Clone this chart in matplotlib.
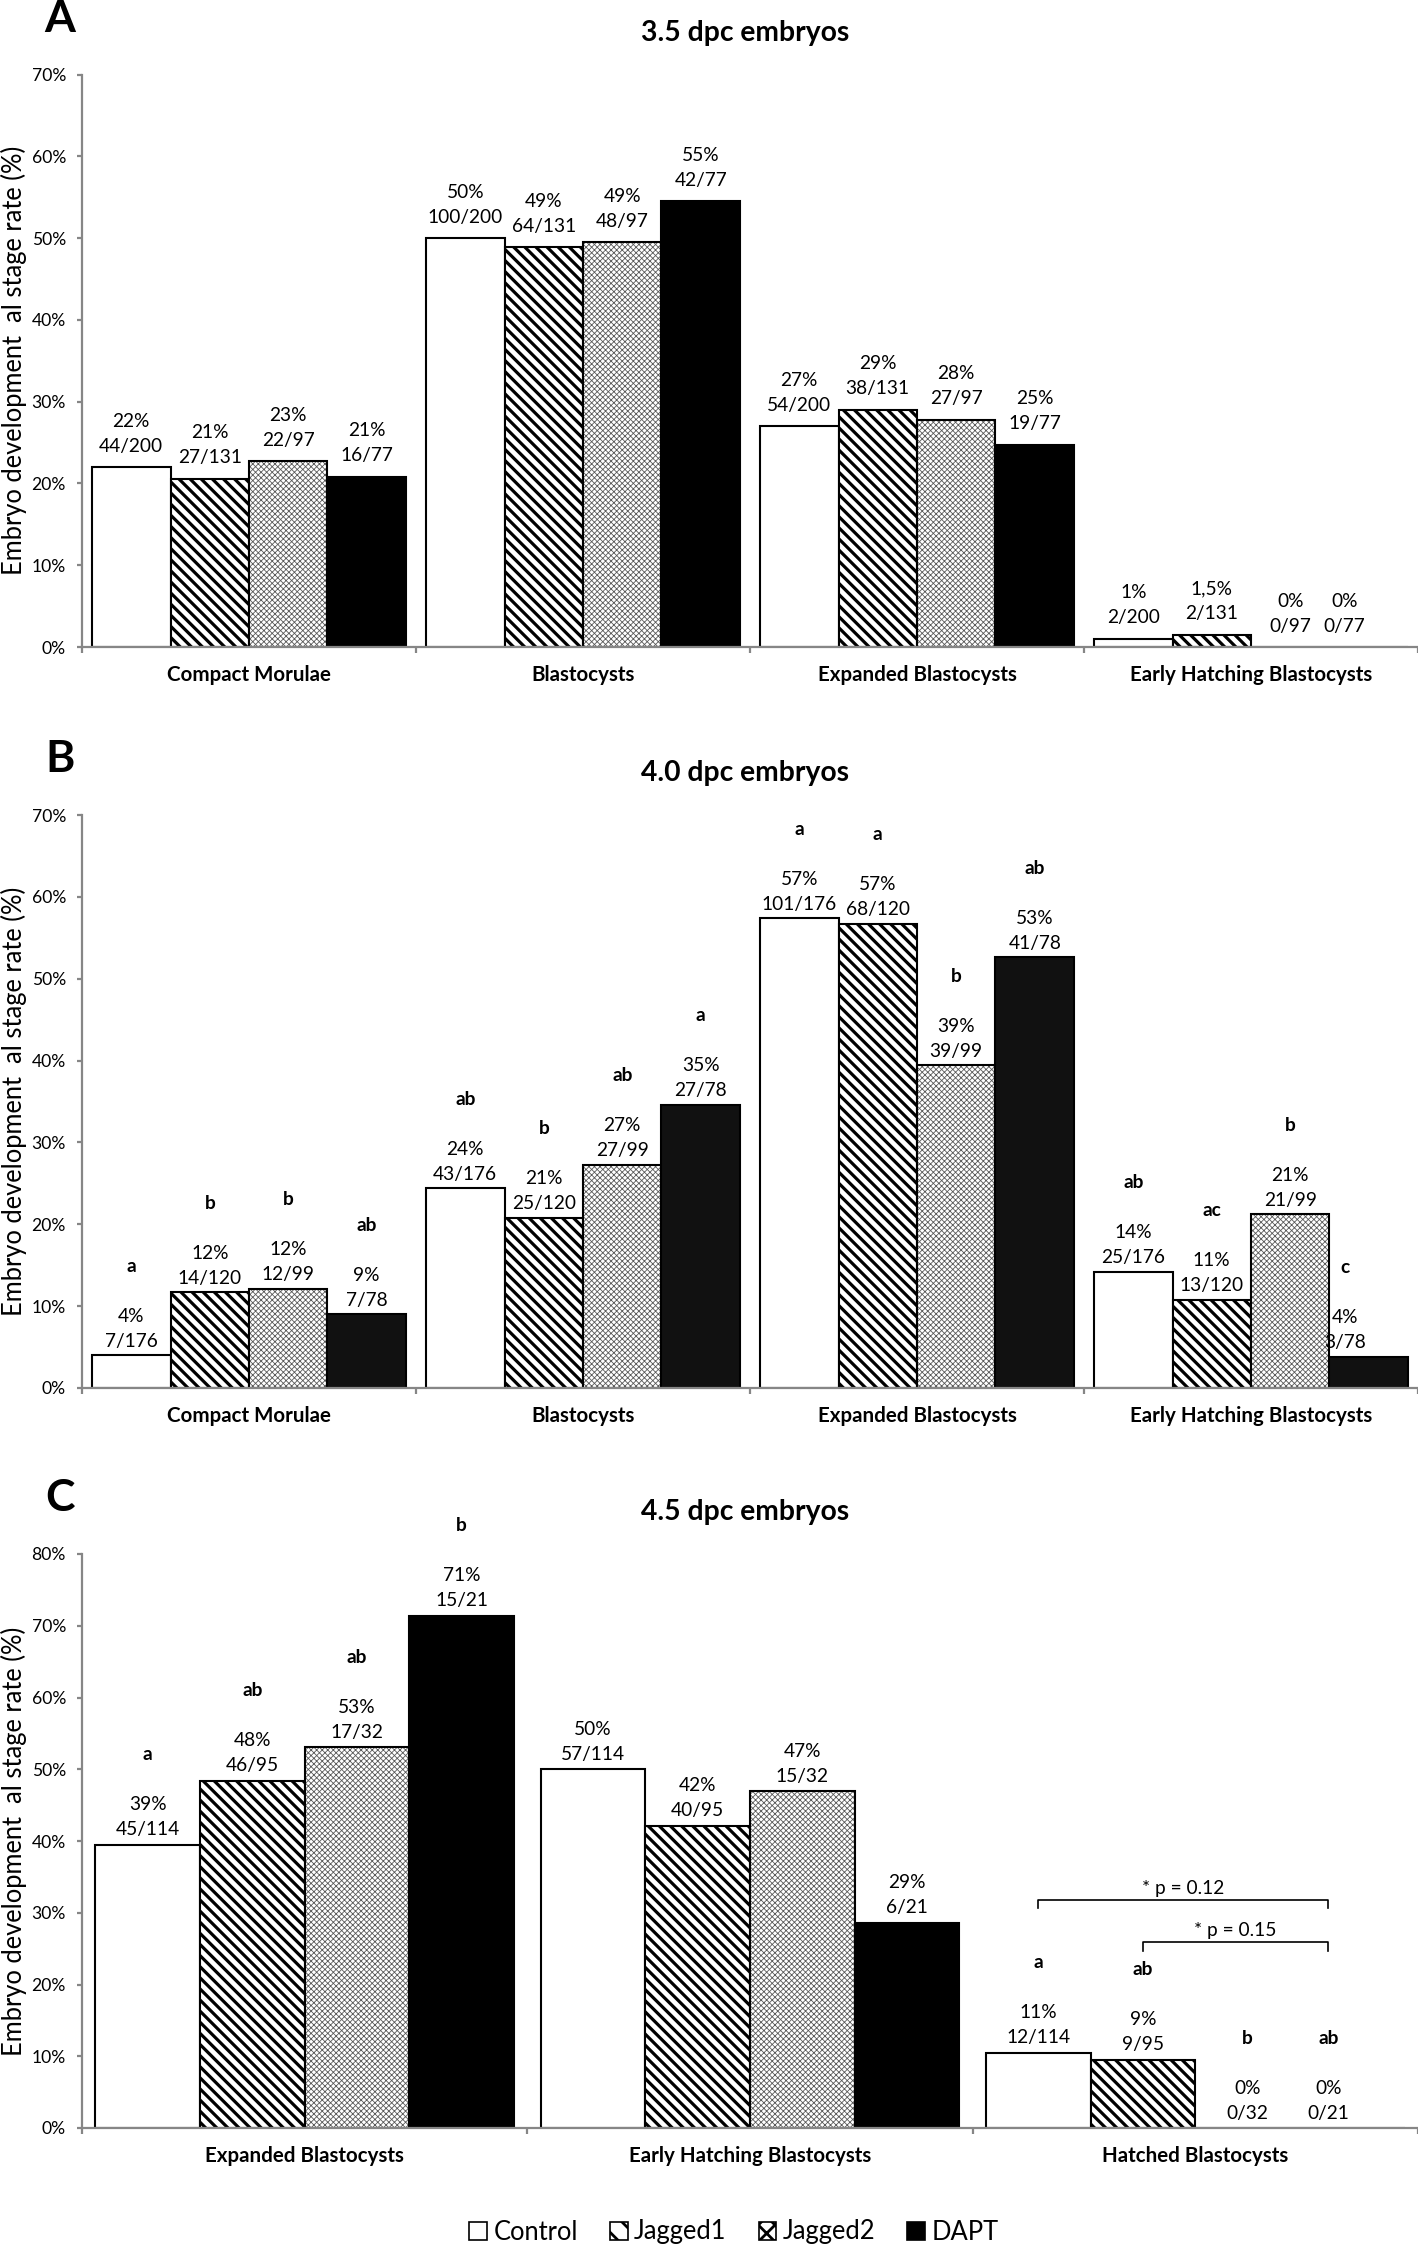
import numpy as np
import matplotlib.pyplot as plt
from matplotlib.patches import Patch

plt.rcParams['font.family'] = ['Lato', 'DejaVu Sans']

W, H, DPI = 1418, 2245, 200

groups = ['Control', 'Jagged1', 'Jagged2', 'DAPT']

# A - 3.5 dpc (one row per group)
cats_a = ['Compact Morulae', 'Blastocysts', 'Expanded Blastocysts', 'Early Hatching Blastocysts']
vals_a = [[22.0, 50.0, 27.0, 1.0],
          [20.6, 48.9, 29.0, 1.5],
          [22.7, 49.5, 27.8, 0.0],
          [20.8, 54.5, 24.7, 0.0]]
pct_a = [['22%', '50%', '27%', '1%'],
         ['21%', '49%', '29%', '1,5%'],
         ['23%', '49%', '28%', '0%'],
         ['21%', '55%', '25%', '0%']]
n_a = [['44/200', '100/200', '54/200', '2/200'],
       ['27/131', '64/131', '38/131', '2/131'],
       ['22/97', '48/97', '27/97', '0/97'],
       ['16/77', '42/77', '19/77', '0/77']]

# B - 4.0 dpc
cats_b = cats_a
vals_b = [[4.0, 24.4, 57.4, 14.2],
          [11.7, 20.8, 56.7, 10.8],
          [12.1, 27.3, 39.4, 21.2],
          [9.0, 34.6, 52.6, 3.8]]
pct_b = [['4%', '24%', '57%', '14%'],
         ['12%', '21%', '57%', '11%'],
         ['12%', '27%', '39%', '21%'],
         ['9%', '35%', '53%', '4%']]
n_b = [['7/176', '43/176', '101/176', '25/176'],
       ['14/120', '25/120', '68/120', '13/120'],
       ['12/99', '27/99', '39/99', '21/99'],
       ['7/78', '27/78', '41/78', '3/78']]
let_b = [['a', 'ab', 'a', 'ab'],
         ['b', 'b', 'a', 'ac'],
         ['b', 'ab', 'b', 'b'],
         ['ab', 'a', 'ab', 'c']]

# C - 4.5 dpc
cats_c = ['Expanded Blastocysts', 'Early Hatching Blastocysts', 'Hatched Blastocysts']
vals_c = [[39.5, 50.0, 10.5],
          [48.4, 42.1, 9.5],
          [53.1, 46.9, 0.0],
          [71.4, 28.6, 0.0]]
pct_c = [['39%', '50%', '11%'],
         ['48%', '42%', '9%'],
         ['53%', '47%', '0%'],
         ['71%', '29%', '0%']]
n_c = [['45/114', '57/114', '12/114'],
       ['46/95', '40/95', '9/95'],
       ['17/32', '15/32', '0/32'],
       ['15/21', '6/21', '0/21']]
let_c = [['a', '', 'a'],
         ['ab', '', 'ab'],
         ['ab', '', 'b'],
         ['b', '', 'ab']]
# (from group, to group, bar y, tick end y, text) in the Hatched Blastocysts category
brackets_c = [(0, 3, 31.8, 30.6, '* p = 0.12'),
              (1, 3, 25.9, 24.6, '* p = 0.15')]

faces = ['white', 'white', 'white', 'black']
hatches = [None, '\\' * 6, 'x' * 12, None]
hatch_colors = ['black', 'black', '#5a5a5a', 'black']
legend_hatches = [None, '\\' * 3, 'x' * 4, None]
hatch_lw = [1.0, 1.15, 0.3, 1.0]
GRAY = '#868686'
BW = 0.235
LEFT, RIGHT = 82, 1418
EDGE_NUDGE = -24  # px, labels of the last bar sit a bit to the left


def pt(px):
    return px * 72.0 / DPI


def draw_panel(top, bottom, cats, vals, pcts, ns, lets, ymax, title, letter,
               off_n, off_p, dapt_color='black'):
    ax = fig.add_axes([LEFT / W, 1 - bottom / H, (RIGHT - LEFT) / W, (bottom - top) / H])
    ncat = len(cats)
    xs = np.arange(ncat)
    for j in range(4):
        fc = dapt_color if j == 3 else faces[j]
        pos = xs + (j - 1.5) * BW
        # fill + hatch first, then the black outline on top
        with plt.rc_context({'hatch.linewidth': hatch_lw[j]}):
            bars = ax.bar(pos, vals[j], BW, color=fc, edgecolor=hatch_colors[j],
                          linewidth=0, hatch=hatches[j])
        for b in bars:
            if hasattr(b, 'set_hatch_linewidth'):
                b.set_hatch_linewidth(hatch_lw[j])
        ax.bar(pos, vals[j], BW, fill=False, edgecolor='black', linewidth=0.75)
        for i in range(ncat):
            x = pos[i]
            y = vals[j][i]
            dx = pt(EDGE_NUDGE) if (j == 3 and i == ncat - 1) else 0
            ax.annotate(ns[j][i], (x, y), xytext=(dx, pt(off_n)), textcoords='offset points',
                        ha='center', va='center', fontsize=6.9)
            ax.annotate(pcts[j][i], (x, y), xytext=(dx, pt(off_p)), textcoords='offset points',
                        ha='center', va='center', fontsize=6.9)
            if lets is not None and lets[j][i]:
                ax.annotate(lets[j][i], (x, y), xytext=(dx, pt(off_p + 50)),
                            textcoords='offset points', ha='center', va='center',
                            fontsize=6.9, fontweight='bold')
    ax.set_xlim(-0.5, ncat - 0.5)
    ax.set_ylim(0, ymax)
    yt = np.arange(0, ymax + 1, 10)
    ax.set_yticks(yt)
    ax.set_yticklabels([f'{int(v)}%' for v in yt])
    ax.set_xticks(xs)
    ax.set_xticklabels(cats, fontweight='bold', fontsize=7.4)
    ax.set_xticks(np.arange(ncat + 1) - 0.5, minor=True)
    ax.tick_params(axis='x', which='major', length=0, pad=6.5)
    ax.tick_params(axis='x', which='minor', length=pt(6), width=0.8, color=GRAY)
    ax.tick_params(axis='y', length=pt(5), width=0.8, color=GRAY, pad=pt(11), labelsize=6.3)
    for s in ['top', 'right']:
        ax.spines[s].set_visible(False)
    for s in ['left', 'bottom']:
        ax.spines[s].set_color(GRAY)
        ax.spines[s].set_linewidth(0.8)
    ax.set_ylabel('Embryo development  al stage rate (%)', fontsize=9.2)
    ax.yaxis.set_label_coords((27 - LEFT) / (RIGHT - LEFT), 0.5)
    fig.text(745 / W, 1 - (top - 42) / H, title, ha='center', va='center',
             fontsize=10.2, fontweight='bold')
    fig.text(60 / W, 1 - (top - 56) / H, letter, ha='center', va='center',
             fontsize=16, fontweight='bold')
    return ax


fig = plt.figure(figsize=(W / DPI, H / DPI), dpi=DPI)

draw_panel(74.5, 647, cats_a, vals_a, pct_a, n_a, None, 70, '3.5 dpc embryos', 'A', 21, 46)
draw_panel(815, 1388, cats_b, vals_b, pct_b, n_b, let_b, 70, '4.0 dpc embryos', 'B', 14, 39,
           dapt_color='#111111')
axc = draw_panel(1554, 2128, cats_c, vals_c, pct_c, n_c, let_c, 80, '4.5 dpc embryos', 'C', 15, 40)

# significance brackets in panel C, ending over the bar labels
cat_px = (RIGHT - LEFT) / len(cats_c)
for g0, g1, yb, yt_, txt in brackets_c:
    x0 = 2 + (g0 - 1.5) * BW
    x1 = 2 + (g1 - 1.5) * BW + EDGE_NUDGE / cat_px
    axc.plot([x0, x0, x1, x1], [yt_, yb, yb, yt_], color='black', lw=0.6, clip_on=False)
    axc.text((x0 + x1) / 2, yb + 1.6, txt, ha='center', va='center', fontsize=6.9)

handles = []
for j in range(4):
    with plt.rc_context({'hatch.linewidth': hatch_lw[j]}):
        h = Patch(facecolor=faces[j], edgecolor='black', linewidth=0.6,
                  hatch=legend_hatches[j], label=groups[j])
    if hasattr(h, 'set_hatch_linewidth'):
        h.set_hatch_linewidth(1.6 if j == 1 else 0.4)
    handles.append(h)
fig.legend(handles=handles, loc='center', bbox_to_anchor=(734 / W, 1 - 2232 / H), ncol=4,
           frameon=False, fontsize=9.2, handlelength=0.7, handleheight=0.7,
           handletextpad=0.25, columnspacing=1.25, borderpad=0)

plt.savefig('out.png', dpi=DPI)
